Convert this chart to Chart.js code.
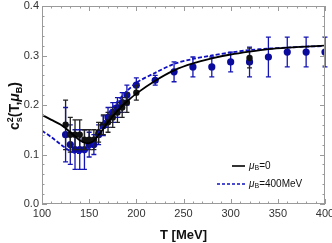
<!DOCTYPE html>
<html>
<head>
<meta charset="utf-8">
<script src="https://cdn.jsdelivr.net/npm/chart.js@4"></script>
<style>
  html, body { margin: 0; padding: 0; background: #fff; }
  #wrap { width: 332px; height: 243px; }
</style>
</head>
<body>
<div id="wrap"><canvas id="c"></canvas></div>
<script>
// curves
var curveT = [100, 110, 120, 125, 130, 135, 140, 145, 150, 155, 160, 165, 170, 175, 180, 185, 190, 200, 220, 240, 260, 280, 300, 320, 340, 360, 380, 400];
var curveMu0 = [0.180, 0.170, 0.160, 0.153, 0.145, 0.137, 0.129, 0.124, 0.123, 0.128, 0.140, 0.152, 0.165, 0.177, 0.188, 0.198, 0.207, 0.223, 0.249, 0.270, 0.284, 0.294, 0.302, 0.308, 0.313, 0.316, 0.318, 0.320];
var curveMu400 = [0.148, 0.135, 0.120, 0.113, 0.107, 0.103, 0.103, 0.105, 0.112, 0.125, 0.145, 0.163, 0.180, 0.195, 0.207, 0.218, 0.228, 0.245, 0.265, 0.283, 0.293, 0.300, 0.306, 0.311, 0.314, 0.316, 0.318, 0.319];

// lattice points, mu_B = 0 (black)
var blackT = [125, 130, 135, 140, 145, 150, 155, 160, 165, 170, 175, 180, 185, 190, 200, 320];
var blackV = [0.16, 0.14, 0.14, 0.14, 0.13, 0.13, 0.13, 0.145, 0.16, 0.165, 0.175, 0.185, 0.195, 0.205, 0.225, 0.295];
var blackErr = [0.05, 0.035, 0.03, 0.03, 0.02, 0.02, 0.02, 0.02, 0.02, 0.02, 0.02, 0.02, 0.02, 0.02, 0.015, 0.02];

// lattice points, mu_B = 400 MeV (blue)
var blueT = [125, 130, 135, 140, 145, 150, 155, 160, 165, 170, 175, 180, 185, 190, 200, 220, 240, 260, 280, 300, 320, 340, 360, 380, 400];
var blueV = [0.14, 0.12, 0.11, 0.11, 0.11, 0.12, 0.12, 0.14, 0.158, 0.175, 0.185, 0.195, 0.205, 0.22, 0.24, 0.25, 0.267, 0.277, 0.277, 0.287, 0.287, 0.297, 0.307, 0.307, 0.307];
var blueErr = [0.055, 0.04, 0.04, 0.04, 0.04, 0.025, 0.02, 0.02, 0.02, 0.02, 0.02, 0.02, 0.02, 0.02, 0.015, 0.01, 0.02, 0.02, 0.02, 0.02, 0.03, 0.04, 0.03, 0.03, 0.03];

var xTicks = [100, 150, 200, 250, 300, 350, 400];
var yTicks = [0.0, 0.1, 0.2, 0.3, 0.4];

function pts(xs, ys) { return xs.map((x, i) => ({x: x, y: ys[i]})); }

var FONT = "'Liberation Sans', Arial, sans-serif";
var BLUE = '#0a0a9c';

// error bars, drawn under each point set
var errorBars = {
  id: 'errorBars',
  beforeDatasetDraw(chart, args) {
    var ds = chart.data.datasets[args.index];
    if (!ds.err) return;
    var ctx = chart.ctx, xs = chart.scales.x, ys = chart.scales.y;
    ctx.save();
    ctx.strokeStyle = ds.errColor;
    ctx.lineWidth = 1.3;
    ds.data.forEach((p, i) => {
      var px = xs.getPixelForValue(p.x);
      var top = ys.getPixelForValue(p.y + ds.err[i]);
      var bot = ys.getPixelForValue(p.y - ds.err[i]);
      ctx.beginPath();
      ctx.moveTo(px, top); ctx.lineTo(px, bot);
      ctx.moveTo(px - 2.5, top); ctx.lineTo(px + 2.5, top);
      ctx.moveTo(px - 2.5, bot); ctx.lineTo(px + 2.5, bot);
      ctx.stroke();
    });
    ctx.restore();
  }
};

// frame, inward ticks, y title, legend
var decor = {
  id: 'decor',
  afterDraw(chart) {
    var ctx = chart.ctx, a = chart.chartArea, xs = chart.scales.x, ys = chart.scales.y;
    ctx.save();
    ctx.strokeStyle = '#9a9a9a';
    ctx.lineWidth = 1;
    ctx.strokeRect(a.left + 0.5, a.top + 0.5, a.right - a.left - 1, a.bottom - a.top - 1);
    ctx.beginPath();
    for (var t = 100; t <= 400; t += 10) {
      var px = Math.round(xs.getPixelForValue(t)) + 0.5;
      var len = (t % 50 === 0) ? 5 : 2.5;
      ctx.moveTo(px, a.bottom); ctx.lineTo(px, a.bottom - len);
      ctx.moveTo(px, a.top); ctx.lineTo(px, a.top + len);
    }
    for (var k = 0; k <= 20; k++) {
      var py = Math.round(ys.getPixelForValue(k * 0.02)) + 0.5;
      var l2 = (k % 5 === 0) ? 5 : 2.5;
      ctx.moveTo(a.left, py); ctx.lineTo(a.left + l2, py);
      ctx.moveTo(a.right, py); ctx.lineTo(a.right - l2, py);
    }
    ctx.stroke();

    // y axis title c_s^2(T, mu_B)
    ctx.save();
    ctx.translate(14, 106);
    ctx.rotate(-Math.PI / 2);
    ctx.fillStyle = '#111';
    ctx.textBaseline = 'alphabetic';
    var parts = [
      {t: 'c', f: 'bold 14px', dy: 0},
      {t: '2', f: 'bold 9px', dy: -6, stack: true},
      {t: 's', f: 'bold 9px', dy: 3},
      {t: '(T,', f: 'bold 14px', dy: 0},
      {t: 'μ', f: 'bold italic 14px', dy: 0},
      {t: 'B', f: 'bold 9px', dy: 3},
      {t: ')', f: 'bold 14px', dy: 0}
    ];
    var total = 0;
    parts.forEach(p => { ctx.font = p.f + ' ' + FONT; if (!p.stack) total += ctx.measureText(p.t).width; });
    var x = -total / 2;
    parts.forEach(p => {
      ctx.font = p.f + ' ' + FONT;
      ctx.fillText(p.t, x, 5 + p.dy);
      if (!p.stack) x += ctx.measureText(p.t).width;
    });
    ctx.restore();

    // legend
    function legendRow(y, dashed, color, label) {
      ctx.save();
      ctx.strokeStyle = color;
      ctx.lineWidth = 1.6;
      if (dashed) ctx.setLineDash([3, 2]);
      ctx.beginPath();
      ctx.moveTo(dashed ? 217 : 232, y); ctx.lineTo(245, y);
      ctx.stroke();
      ctx.restore();
      ctx.fillStyle = '#111';
      ctx.textBaseline = 'middle';
      ctx.font = 'italic 10px ' + FONT;
      ctx.fillText('μ', 249, y);
      var w = ctx.measureText('μ').width;
      ctx.font = '7px ' + FONT;
      ctx.fillText('B', 249 + w, y + 2);
      var w2 = ctx.measureText('B').width;
      ctx.font = '10px ' + FONT;
      ctx.fillText(label, 249 + w + w2, y);
    }
    legendRow(166, false, '#000', '=0');
    legendRow(184, true, '#1010c0', '=400MeV');
    ctx.restore();
  }
};

var ctx = document.getElementById('c');
new Chart(ctx, {
  type: 'line',
  data: {
    datasets: [
      { data: pts(curveT, curveMu0), borderColor: '#000', borderWidth: 1.8, pointRadius: 0, tension: 0.3, fill: false },
      { data: pts(curveT, curveMu400), borderColor: '#1010c0', borderWidth: 1.8, borderDash: [4, 2], pointRadius: 0, tension: 0.3, fill: false },
      { data: pts(blackT, blackV), err: blackErr, errColor: '#222', showLine: false, pointRadius: 3.2, pointBackgroundColor: '#111', pointBorderWidth: 0 },
      { data: pts(blueT, blueV), err: blueErr, errColor: '#1515b5', showLine: false, pointRadius: 3.6, pointBackgroundColor: BLUE, pointBorderWidth: 0 }
    ]
  },
  options: {
    responsive: true,
    maintainAspectRatio: false,
    animation: false,
    layout: { padding: { top: 6, right: 7, left: 0, bottom: 0 } },
    plugins: { legend: { display: false }, tooltip: { enabled: false } },
    scales: {
      x: {
        type: 'linear', min: 100, max: 400,
        afterBuildTicks: s => { s.ticks = xTicks.map(v => ({value: v})); },
        afterFit: s => { s.height = 39; s.paddingRight = 0; s.paddingLeft = 0; },
        grid: { display: false, drawTicks: false },
        border: { display: false },
        ticks: { color: '#333', font: { family: FONT, size: 11 }, padding: 3, maxRotation: 0 },
        title: { display: true, text: 'T [MeV]', color: '#111', font: { family: FONT, size: 13, weight: 'bold' }, padding: { top: 2, bottom: 0 } }
      },
      y: {
        type: 'linear', min: 0, max: 0.4,
        afterBuildTicks: s => { s.ticks = yTicks.map(v => ({value: v})); },
        afterFit: s => { s.width = 42; s.paddingTop = 0; s.paddingBottom = 0; },
        grid: { display: false, drawTicks: false },
        border: { display: false },
        ticks: { color: '#333', font: { family: FONT, size: 11 }, padding: 3, callback: v => v.toFixed(1) }
      }
    }
  },
  plugins: [errorBars, decor]
});
</script>
</body>
</html>
